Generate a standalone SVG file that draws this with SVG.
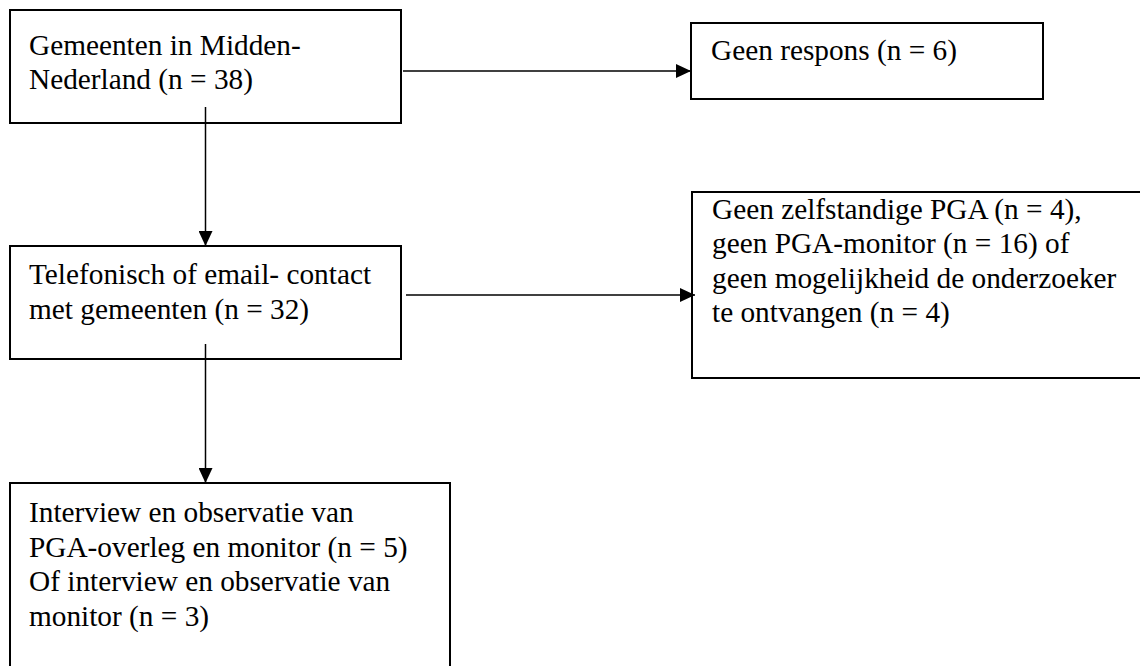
<svg xmlns="http://www.w3.org/2000/svg" width="1140" height="666" viewBox="0 0 1140 666">
<defs>
<style>
.box{fill:#fff;stroke:#000;stroke-width:2}
.t{font-family:"Liberation Serif","Times New Roman",serif;font-size:29.3px;fill:#000}
.c{stroke:#000;stroke-width:1.5;fill:none;marker-end:url(#ah)}
</style>
<marker id="ah" viewBox="0 0 15 14" refX="15" refY="7" markerWidth="15" markerHeight="14" markerUnits="userSpaceOnUse" orient="auto">
<path d="M0,0 L15,7 L0,14 Z" fill="#000"/>
</marker>
</defs>
<rect width="1140" height="666" fill="#fff"/>
<g id="n1">
<rect class="box" x="10" y="10" width="391" height="113"/>
<text class="t" x="29" y="55">Gemeenten in Midden-</text>
<text class="t" x="29" y="88.5">Nederland (n = 38)</text>
</g>
<g id="n2">
<rect class="box" x="691" y="23" width="352" height="76"/>
<text class="t" x="711" y="60">Geen respons (n = 6)</text>
</g>
<g id="n3">
<rect class="box" x="10" y="246" width="391" height="113"/>
<text class="t" x="29" y="284">Telefonisch of email- contact</text>
<text class="t" x="29" y="318.5">met gemeenten (n = 32)</text>
</g>
<g id="n4">
<rect class="box" x="692" y="192" width="460" height="186"/>
<text class="t" x="712" y="218.5">Geen zelfstandige PGA (n = 4),</text>
<text class="t" x="712" y="253">geen PGA-monitor (n = 16) of</text>
<text class="t" x="712" y="287.5">geen mogelijkheid de onderzoeker</text>
<text class="t" x="712" y="322">te ontvangen (n = 4)</text>
</g>
<g id="n5">
<rect class="box" x="10" y="483" width="440" height="200"/>
<text class="t" x="29" y="522">Interview en observatie van</text>
<text class="t" x="29" y="556.5">PGA-overleg en monitor (n = 5)</text>
<text class="t" x="29" y="591">Of interview en observatie van</text>
<text class="t" x="29" y="625.5">monitor (n = 3)</text>
</g>
<g id="connectors">
<line class="c" x1="403" y1="71" x2="691" y2="71"/>
<line class="c" x1="205.5" y1="107" x2="205.5" y2="246"/>
<line class="c" x1="406" y1="295" x2="695" y2="295"/>
<line class="c" x1="205.5" y1="344" x2="205.5" y2="483"/>
</g>
</svg>
